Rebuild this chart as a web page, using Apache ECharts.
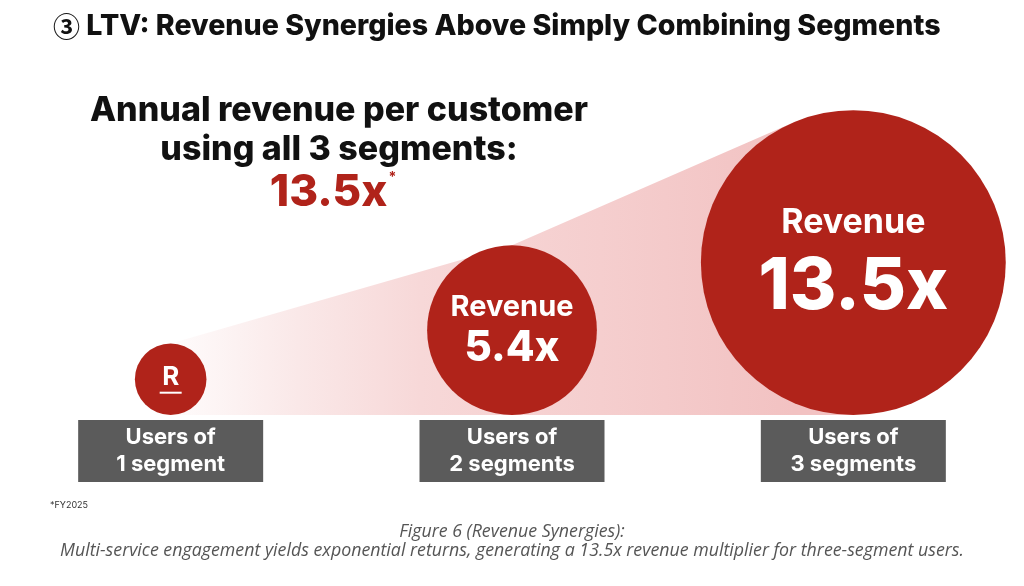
<!DOCTYPE html>
<html>
<head>
<meta charset="utf-8">
<script src="https://cdn.jsdelivr.net/npm/echarts@6/dist/echarts.min.js"></script>
<style>
  html, body { margin: 0; padding: 0; background: #fff; }
  #Charts { width: 1024px; height: 586px; }
</style>
</head>
<body>
<div id="Charts"></div>
<script>
// data
const segments = ['Users of\n1 segment', 'Users of\n2 segments', 'Users of\n3 segments'];
const revenueMultiple = [1, 5.4, 13.5];
const headline = 13.5;

const RED = '#b0231a';
const GREY = '#5b5b5b';
const FONT = 'Inter, "Noto Sans", "Noto Sans CJK JP", sans-serif';

// bubble diameter in px grows with the revenue multiple
function bubbleDiameter(v) {
  return 33 + 38.6 * Math.pow(v, 0.75);
}

let chart = echarts.init(document.getElementById('Charts'), null, { renderer: 'canvas' });

let option = {
  animation: false,
  backgroundColor: '#fff',
  title: [
    {
      text: '{c|③} LTV: Revenue Synergies Above Simply Combining Segments',
      left: 48,
      top: 7,
      textStyle: {
        fontFamily: FONT, fontSize: 28.6, fontWeight: 800, color: '#111',
        rich: {
          c: { fontFamily: '"Noto Sans CJK JP", sans-serif', fontSize: 27, fontWeight: 700, color: '#111' }
        }
      }
    }
  ],
  grid: { left: 0, right: 0, top: 100, bottom: 171 },
  xAxis: {
    type: 'category',
    data: segments,
    axisLine: { show: false },
    axisTick: { show: false },
    splitLine: { show: false },
    axisLabel: {
      interval: 0,
      margin: 5,
      width: 185,
      align: 'center',
      color: '#fff',
      backgroundColor: GREY,
      padding: [4, 0, 4, 0],
      fontFamily: FONT,
      fontSize: 22,
      fontWeight: 700,
      lineHeight: 27
    }
  },
  yAxis: { type: 'value', min: 0, max: 1, show: false },
  series: [
    {
      // light wedge behind the bubbles
      type: 'custom',
      silent: true,
      z: 1,
      data: [0],
      renderItem: function (params, api) {
        const tops = revenueMultiple.map((v, i) => {
          const p = api.coord([i, 0]);
          return [p[0], p[1] - bubbleDiameter(v)];
        });
        const base = api.coord([0, 0])[1];
        const c3 = api.coord([2, 0]);
        const r3 = bubbleDiameter(revenueMultiple[2]) / 2;
        const cy = base - r3;
        const top3 = [c3[0] - 0.39 * r3, cy - 0.92 * r3];
        const k = (tops[1][1] - tops[0][1]) / (tops[1][0] - tops[0][0]);
        const tipX = tops[0][0] + (base - tops[0][1]) / k;
        const x0 = 150, x1 = top3[0];
        return {
          type: 'polygon',
          shape: { points: [[tipX, base], tops[0], tops[1], top3, [c3[0], base]] },
          style: {
            fill: new echarts.graphic.LinearGradient(x0, 0, x1, 0, [
              { offset: 0, color: '#ffffff' },
              { offset: 0.23, color: '#fae8e8' },
              { offset: 0.42, color: '#f7d8d8' },
              { offset: 0.7, color: '#f5cece' },
              { offset: 1, color: '#f2c2c2' }
            ], true)
          }
        };
      }
    },
    {
      type: 'scatter',
      z: 3,
      symbol: 'circle',
      symbolOffset: [0, '-50%'],
      symbolSize: function (val) { return bubbleDiameter(val[2]); },
      itemStyle: { color: RED, opacity: 1 },
      data: revenueMultiple.map((v, i) => [i, 0, v]),
      label: {
        show: true,
        position: 'inside',
        color: '#fff',
        fontFamily: FONT,
        formatter: function (p) {
          const v = p.value[2];
          if (v === 1) return '{logo|R}\n{bar| }';
          if (v > 10) return '{rev3|Revenue}\n{num3|' + v + 'x}';
          return '{rev2|Revenue}\n{num2|' + v + 'x}';
        },
        rich: {
          logo: { fontFamily: FONT, fontSize: 26, fontWeight: 700, color: '#fff', lineHeight: 27 },
          bar: { fontSize: 1, width: 22, height: 2, lineHeight: 4, backgroundColor: '#fff' },
          rev2: { fontFamily: FONT, fontSize: 29, fontWeight: 700, color: '#fff', lineHeight: 37, align: 'center' },
          num2: { fontFamily: FONT, fontSize: 42, fontWeight: 800, color: '#fff', lineHeight: 46, align: 'center' },
          rev3: { fontFamily: FONT, fontSize: 34, fontWeight: 700, color: '#fff', lineHeight: 50, align: 'center' },
          num3: { fontFamily: FONT, fontSize: 71, fontWeight: 800, color: '#fff', lineHeight: 80, align: 'center' }
        }
      }
    }
  ],
  graphic: [
    {
      type: 'text',
      x: 339,
      y: 130,
      style: {
        text: 'Annual revenue per customer\nusing all 3 segments:',
        align: 'center',
        verticalAlign: 'middle',
        fontFamily: FONT,
        fontSize: 34,
        fontWeight: 800,
        lineHeight: 39,
        fill: '#111'
      }
    },
    {
      type: 'text',
      x: 333,
      y: 193,
      style: {
        text: '{big|' + headline + 'x}{star|*}',
        align: 'center',
        verticalAlign: 'middle',
        rich: {
          big: { fontFamily: FONT, fontSize: 44, fontWeight: 800, fill: RED, color: RED },
          star: { fontFamily: FONT, fontSize: 14, fontWeight: 700, fill: RED, color: RED, verticalAlign: 'top', padding: [0, 0, 22, 1] }
        }
      }
    },
    {
      type: 'text',
      x: 50,
      y: 505,
      style: { text: '*FY2025', fontFamily: FONT, fontSize: 9, fill: '#333', verticalAlign: 'middle' }
    },
    {
      type: 'text',
      x: 512,
      y: 541,
      style: {
        text: 'Figure 6 (Revenue Synergies):\nMulti-service engagement yields exponential returns, generating a 13.5x revenue multiplier for three-segment users.',
        align: 'center',
        verticalAlign: 'middle',
        fontFamily: '"Open Sans", "Noto Sans", sans-serif',
        fontStyle: 'italic',
        fontSize: 17.8,
        lineHeight: 19,
        fill: '#555'
      }
    }
  ]
};
chart.setOption(option);
</script>
</body>
</html>
